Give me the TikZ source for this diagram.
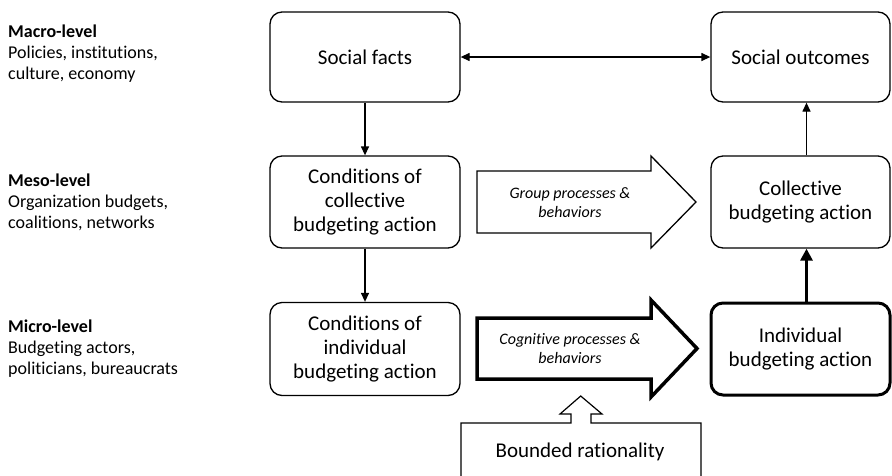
\documentclass[tikz,border=0pt]{standalone}
\usepackage{fontspec}
\setmainfont{Carlito}[Ligatures=NoCommon]
\usetikzlibrary{arrows.meta}
\begin{document}
\begin{tikzpicture}[x=1pt,y=-1pt,
  box/.style={draw, rounded corners=12pt, line width=1.3pt, align=center, font=\fontsize{21}{24}\selectfont, inner sep=0pt},
  lbox/.style={box, minimum width=190pt},
  rbox/.style={box, minimum width=179pt},
  lvl/.style={anchor=north west, align=left, inner sep=0pt, font=\fontsize{18}{21}\selectfont},
  proc/.style={align=center, inner sep=0pt, font=\fontsize{16}{19}\selectfont\itshape},
  conn/.style={line width=1.3pt, -{Triangle[length=9pt,width=8pt]}},
  bigarrow/.style={draw, line width=1.3pt, line join=miter, fill=white}]
\useasboundingbox (0,0) rectangle (892,475);
\clip (0,0) rectangle (892,475);
\fill[white] (0,0) rectangle (892,475);

% level labels
\node[lvl] (macro) at (8,25) {\textbf{Macro-level}\\Policies, institutions,\\culture, economy};
\node[lvl] (meso) at (8,174) {\textbf{Meso-level}\\Organization budgets,\\coalitions, networks};
\node[lvl] (micro) at (8,320) {\textbf{Micro-level}\\Budgeting actors,\\politicians, bureaucrats};

% boxes
\node[lbox, minimum height=90pt] (sf) at (365,57) {Social facts};
\node[rbox, minimum height=90pt] (so) at (800.5,57) {Social outcomes};
\node[lbox, minimum height=92pt] (ccb) at (365,202) {Conditions of\\collective\\budgeting action};
\node[rbox, minimum height=92pt] (cb) at (800.5,202) {Collective\\budgeting action};
\node[lbox, minimum height=93pt] (cib) at (365,349) {Conditions of\\individual\\budgeting action};
\node[rbox, minimum height=92pt, line width=3pt] (ib) at (800.5,349) {Individual\\budgeting action};

% connectors
\draw[line width=1.3pt, {Triangle[length=9pt,width=8pt]}-{Triangle[length=9pt,width=8pt]}] (sf) -- (so);
\draw[conn] (sf) -- (ccb);
\draw[conn] (ccb) -- (cib);
\draw[conn] ([xshift=6pt]cb.north) -- ([xshift=6pt]so.south);
\draw[line width=3pt, -{Triangle[length=12pt,width=12pt]}] ([xshift=6pt]ib.north) -- ([xshift=6pt]cb.south);

% block arrows
\draw[bigarrow] (477,171) -- (651,171) -- (651,156) -- (696,202) -- (651,248) -- (651,233) -- (477,233) -- cycle;
\node[proc] (gp) at (570,202.5) {Group processes \&\\behaviors};
\draw[bigarrow, line width=3.5pt] (477,318) -- (651,318) -- (651,300) -- (697,348.5) -- (651,397) -- (651,379) -- (477,379) -- cycle;
\node[proc] (cp) at (570,349) {Cognitive processes \&\\behaviors};

% bounded rationality callout
\draw[line width=1.2pt, line join=miter] (461,480) -- (461,423) -- (571,423) -- (571,414) -- (560,414) -- (580.7,396) -- (602,414) -- (591,414) -- (591,423) -- (701,423) -- (701,480);
\node[inner sep=0pt, font=\fontsize{21}{24}\selectfont] (br) at (580,452) {Bounded rationality};
\end{tikzpicture}
\end{document}
